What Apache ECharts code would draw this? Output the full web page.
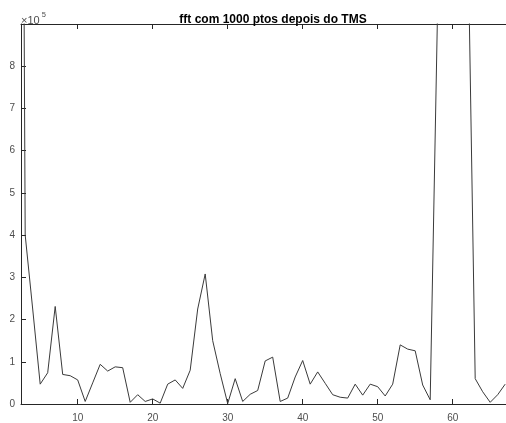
<!DOCTYPE html>
<html>
<head>
<meta charset="utf-8">
<script src="https://cdn.jsdelivr.net/npm/echarts@6/dist/echarts.min.js"></script>
<style>
  html, body { margin: 0; padding: 0; background: #fff; overflow: hidden; }
  #chart { width: 520px; height: 423px; }
</style>
</head>
<body>
<div id="chart"></div>
<script>
// FFT magnitude (units of 1e5) for bins 2..67
const bins = [2, 3, 4, 5, 6, 7, 8, 9, 10, 11, 12, 13, 14, 15, 16, 17, 18, 19, 20, 21,
  22, 23, 24, 25, 26, 27, 28, 29, 30, 31, 32, 33, 34, 35, 36, 37, 38, 39, 40, 41,
  42, 43, 44, 45, 46, 47, 48, 49, 50, 51, 52, 53, 54, 55, 56, 57, 58, 59, 60, 61,
  62, 63, 64, 65, 66, 67];
const magnitudeE5 = [40, 4.0, 2.25, 0.47, 0.74, 2.31, 0.70, 0.67, 0.57, 0.06, 0.50, 0.94, 0.78, 0.88, 0.86, 0.04, 0.22, 0.06, 0.12, 0.02,
  0.47, 0.57, 0.37, 0.80, 2.25, 3.08, 1.50, 0.72, 0.01, 0.60, 0.06, 0.23, 0.32, 1.02, 1.11, 0.06, 0.14, 0.64, 1.03, 0.47,
  0.76, 0.49, 0.22, 0.16, 0.14, 0.47, 0.21, 0.47, 0.41, 0.19, 0.47, 1.40, 1.30, 1.26, 0.45, 0.10, 9.5, 30, 48, 28,
  11.5, 0.60, 0.29, 0.04, 0.22, 0.47];
const xTicks = [10, 20, 30, 40, 50, 60];
const yTicks = [0, 1, 2, 3, 4, 5, 6, 7, 8];
const titleText = 'fft com 1000 ptos depois do TMS';

const points = bins.map((b, i) => [b, magnitudeE5[i]]);
const axisColor = '#262626';
const labelColor = '#4d4d4d';
const font = 'Liberation Sans, Arial, Helvetica, sans-serif';

const chart = echarts.init(document.getElementById('chart'), null, { renderer: 'canvas' });
chart.setOption({
  animation: false,
  backgroundColor: '#ffffff',
  title: {
    text: titleText,
    left: 268, top: 9, textAlign: 'center',
    textStyle: { fontFamily: font, fontSize: 12, fontWeight: 'bold', color: '#000' }
  },
  graphic: [{
    type: 'text', left: 21, top: 11,
    style: {
      text: '{a|×10}{b|5}',
      rich: {
        a: { fontFamily: font, fontSize: 11, fill: labelColor, verticalAlign: 'bottom' },
        b: { fontFamily: font, fontSize: 7.5, fill: labelColor, verticalAlign: 'top', padding: [0, 0, 7, 2] }
      }
    }
  }],
  grid: { left: 21, right: 7.3, top: 24, bottom: 12, containLabel: false },
  xAxis: [{
    type: 'value', min: 2.44, max: 68, position: 'bottom',
    axisLine: { show: true, lineStyle: { color: axisColor, width: 1 } },
    axisTick: { show: true, inside: true, length: 5, customValues: xTicks, lineStyle: { color: axisColor } },
    axisLabel: { show: true, customValues: xTicks, margin: 9, color: labelColor, fontFamily: font, fontSize: 10 },
    splitLine: { show: false }
  }, {
    type: 'value', min: 2.44, max: 68, position: 'top',
    axisLine: { show: true, lineStyle: { color: axisColor, width: 1 } },
    axisTick: { show: true, inside: true, length: 5, customValues: xTicks, lineStyle: { color: axisColor } },
    axisLabel: { show: false },
    splitLine: { show: false }
  }],
  yAxis: [{
    type: 'value', min: 0, max: 9,
    axisLine: { show: true, lineStyle: { color: axisColor, width: 1 } },
    axisTick: { show: true, inside: true, length: 5, customValues: yTicks, lineStyle: { color: axisColor } },
    axisLabel: { show: true, customValues: yTicks, margin: 6, color: labelColor, fontFamily: font, fontSize: 10 },
    splitLine: { show: false }
  }],
  series: [{
    type: 'line',
    data: points,
    xAxisIndex: 0, yAxisIndex: 0,
    showSymbol: false,
    clip: true,
    lineStyle: { color: '#3a3a3a', width: 1 }
  }]
});
</script>
</body>
</html>
